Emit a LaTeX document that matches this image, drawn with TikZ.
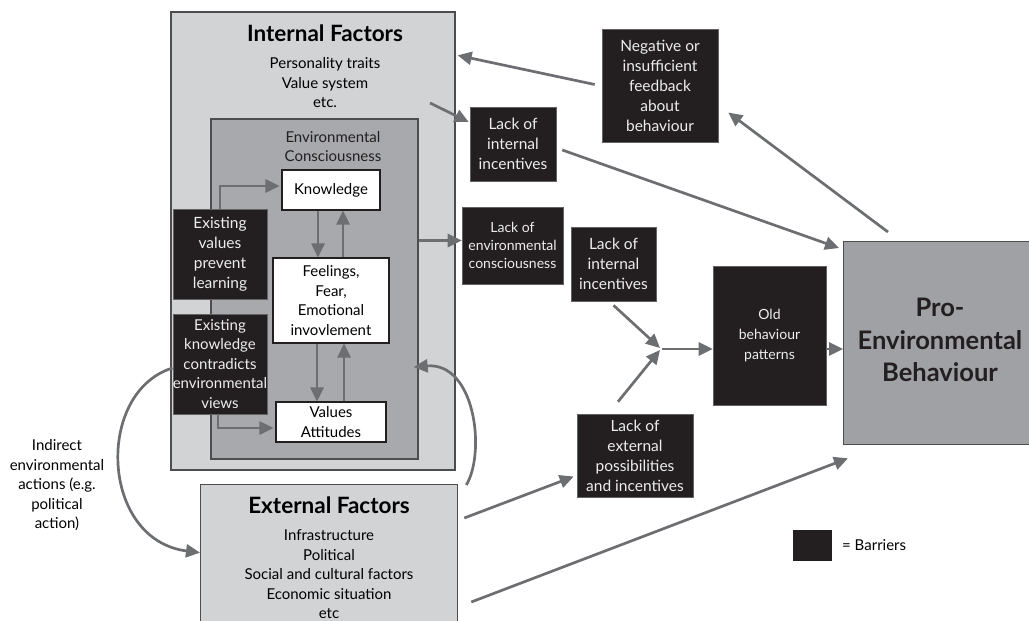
\documentclass[tikz,border=0pt]{standalone}
\usepackage{fontspec}
\setmainfont{Lato}
\usetikzlibrary{arrows.meta,calc}
\definecolor{paleg}{HTML}{D1D3D4}
\definecolor{midg}{HTML}{A7A9AC}
\definecolor{prog}{HTML}{9FA1A4}
\definecolor{barrier}{HTML}{231F20}
\definecolor{edgeg}{HTML}{4D4D4F}
\definecolor{arrowg}{HTML}{6D6E71}
\definecolor{bartext}{HTML}{EDEDED}
\tikzset{
  plain/.style={draw=edgeg,line width=1.3pt,inner sep=0pt},
  region/.style={plain,fill=paleg},
  conscious/.style={plain,fill=midg},
  wbox/.style={draw=barrier,line width=1.1pt,fill=white,inner sep=0pt,align=center,
    font=\fontsize{15}{19.5}\selectfont},
  barrierbox/.style={fill=barrier,draw=barrier!70!white,line width=0.6pt,inner sep=0pt,align=center,
    text=bartext,font=\fontsize{15.5}{20}\selectfont},
  txt/.style={align=center,inner sep=0pt,font=\fontsize{15}{19.5}\selectfont},
  head/.style={align=center,inner sep=0pt,font=\fontsize{22.5}{26}\selectfont\bfseries},
  arr/.style={draw=arrowg,line width=2.7pt,-{Triangle[length=14pt,width=13pt]},fill=none},
}
\begin{document}
\begin{tikzpicture}[x=1pt,y=-1pt]
\useasboundingbox (0,0) rectangle (1029,621);
\clip (0,0) rectangle (1029,621);

% Internal factors and the consciousness panel within it
\node[region,minimum width=284,minimum height=458] (intf) at (313,241) {};
\node[head] (intft) at (325,33) {Internal Factors};
\node[txt] (intfl) at (325,83) {Personality traits\\Value system\\etc.};
\node[conscious,minimum width=207,minimum height=340] (envc) at (314.5,289) {};
\node[txt,text=barrier] (envct) at (333,146.5) {Environmental\\Consciousness};

\node[wbox,minimum width=98,minimum height=40] (know) at (331,190) {Knowledge};
\node[wbox,minimum width=116,minimum height=85] (feel) at (331,300.5) {Feelings,\\Fear,\\Emotional\\invovlement};
\node[wbox,minimum width=110,minimum height=40] (vals) at (331,422) {Values\\Attitudes};

\node[barrierbox,minimum width=94,minimum height=90] (exv) at (220,254) {Existing\\values\\prevent\\learning};
\node[barrierbox,minimum width=94,minimum height=100,font=\fontsize{15}{19.5}\selectfont] (exk) at (220,364) {Existing\\knowledge\\contradicts\\environmental\\views};

% External factors
\node[region,minimum width=257,minimum height=160,anchor=north west] (extf) at (200,484) {};
\node[head] (extft) at (329,505) {External Factors};
\node[txt] (extfl) at (329,574.5) {Infrastructure\\Political\\Social and cultural factors\\Economic situation\\etc};

\node[txt] (indir) at (57,485.5) {Indirect\\environmental\\actions (e.g.\\political\\action)};

% Barriers on the right
\node[barrierbox,minimum width=86,minimum height=74] (lii1) at (513,144) {Lack of\\internal\\incentives};
\node[barrierbox,minimum width=116,minimum height=113] (neg) at (660,85.5) {Negative or\\insufficient\\feedback\\about\\behaviour};
\node[barrierbox,minimum width=101,minimum height=77,font=\fontsize{14}{18}\selectfont] (lec) at (512.5,245.5) {Lack of\\environmental\\consciousness};
\node[barrierbox,minimum width=85,minimum height=74] (lii2) at (613.5,264) {Lack of\\internal\\incentives};
\node[barrierbox,minimum width=116,minimum height=83] (lep) at (635,455.5) {Lack of\\external\\possibilities\\and incentives};
\node[barrierbox,minimum width=113,minimum height=139,font=\fontsize{14}{20}\selectfont] (old) at (769.5,335.5) {Old\\behaviour\\patterns};

% Target behaviour
\node[plain,fill=prog,minimum width=190,minimum height=203,anchor=north west] (pro) at (843,241) {};
\node[align=center,inner sep=0pt,font=\fontsize{25.5}{32.5}\selectfont\bfseries,text=barrier] (prot) at (940,340) {Pro-\\Environmental\\Behaviour};

% Legend
\node[fill=barrier,minimum width=39,minimum height=31,inner sep=0pt] (key) at (812.5,545.5) {};
\node[txt,anchor=west] (keyt) at (842,545.5) {= Barriers};

% Connectors inside the consciousness panel
\draw[arr] (exv.north) |- ($(know.west)+(-2,-4)$);
\draw[arr] ($(exk.south)+(-2,0)$) |- ($(vals.west)+(-2,6)$);
\draw[arr] ($(know.south)+(-13,0)$) -- ($(feel.north)+(-13,0)$);
\draw[arr] ($(feel.north)+(12,0)$) -- ($(know.south)+(12,0)$);
\draw[arr] ($(feel.south)+(-14,0)$) -- ($(vals.north)+(-14,0)$);
\draw[arr] ($(vals.north)+(13,0)$) -- ($(feel.south)+(13,0)$);

% Connectors between the regions and the barriers
\coordinate (lecin) at ($(lec.west)+(0,-5)$);
\draw[arr] (envc.east |- lecin) -- (lecin);
\coordinate (intfout) at (430,103);
\draw[arr] (intfout) -- ($(lii1.west)+(-1,-22)$);
\draw[arr] ($(neg.west)+(-7,-1)$) -- ($(intf.north east)+(2,44)$);
\draw[arr] ($(pro.north west)+(45,-9)$) -- ($(neg.east)+(10,27)$);
\draw[arr] ($(lii1.east)+(6,6)$) -- ($(pro.north west)+(-4,7)$);

\coordinate (junc) at (662,349);
\draw[arr] ($(lii2.south)+(0,4)$) -- ($(junc)+(-2,-1)$);
\draw[arr] ($(lep.north)+(-17,-12)$) -- ($(junc)+(-2,1)$);
\draw[arr] (junc) -- (old.west |- junc);
\draw[arr] ($(old.east)+(0,13.5)$) -- (pro.west |- {$(old.east)+(0,13.5)$});

\draw[arr] ($(extf.north east)+(6,34)$) -- ($(lep.west)+(-3,21)$);
\draw[arr] ($(extf.north east)+(13,118)$) -- ($(pro.south west)+(5,13)$);

% Curved feedback arrows
\draw[arr] ($(extf.north east)+(8,1)$) .. controls (486,452) and (475,362) .. ($(envc.east)+(-5,78)$);
\draw[arr] ($(exk.west)+(0,4)$) .. controls (95,392) and (100,540) .. ($(extf.west)+(0,-12)$);
\end{tikzpicture}
\end{document}
